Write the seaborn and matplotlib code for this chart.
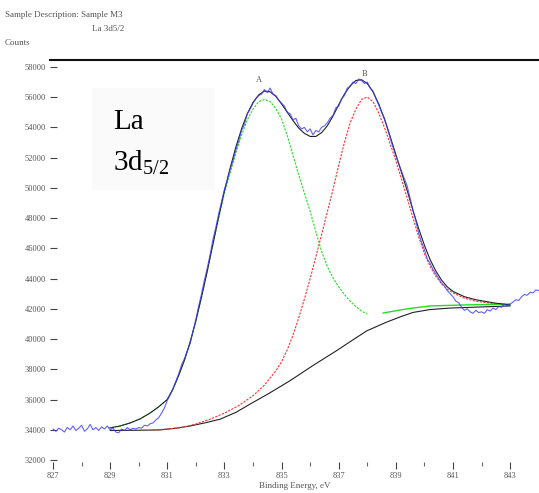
import matplotlib
matplotlib.use("Agg")
import matplotlib.pyplot as plt
import seaborn as sns
import pandas as pd
from matplotlib.patches import Rectangle

# ---------------- data ----------------
data_ev = [827.0 + 0.1 * i for i in range(171)]
data_counts = [
    34050, 33900, 34100, 34000, 33850, 34150, 34000, 34250, 33950, 34100,
    34300, 33900, 34050, 34350, 34000, 34150, 33950, 34200, 34050, 34250,
    34000, 34100, 33850, 33800, 34050, 33950, 34150, 34000, 34100, 34050,
    34150, 34100, 34300, 34250, 34400, 34450, 34650, 34800, 35100, 35450,
    35950, 36300, 36700, 37200, 37700, 38300, 38700, 39200, 39700, 40500,
    41300, 42200, 43000, 43900, 44700, 45600, 46600, 47400, 48300, 49100,
    49900, 50500, 51200, 51800, 52500, 53100, 53800, 54200, 54900, 55200,
    55600, 55900, 56100, 56200, 56500, 56300, 56600, 56200, 56100, 55800,
    55600, 55400, 55000, 54900, 54500, 54600, 54100, 53900, 54000, 53700,
    53900, 53500, 53800, 53700, 54000, 54100, 54300, 54600, 54800, 55300,
    55400, 55900, 56100, 56600, 56700, 57000, 56900, 57200, 57100, 56900,
    57000, 56600, 56400, 55900, 55500, 55000, 54600, 54000, 53300, 52700,
    52100, 51600, 51100, 50600, 50100, 49300, 48500, 47800, 47000, 46400,
    45900, 45300, 45000, 44600, 44300, 44000, 43700, 43500, 43200, 43000,
    42800, 42500, 42400, 42100, 41900, 42000, 41800, 41700, 41900, 41750,
    41800, 41700, 41950, 41850, 42050, 41950, 42150, 42100, 42300, 42200,
    42300, 42450, 42600, 42550, 42800, 42950, 42900, 43100, 43050, 43250,
    43200,
]

env_ev = [829.0, 829.35, 829.7, 830.05, 830.4, 830.7, 831.0, 831.2, 831.4,
          831.6, 831.8, 832.0, 832.2, 832.4, 832.6, 832.8, 833.0, 833.2, 833.4,
          833.6, 833.8, 834.0, 834.2, 834.4, 834.6, 834.8, 835.0, 835.2, 835.4,
          835.6, 835.8, 836.0, 836.2, 836.4, 836.6, 836.8, 837.0, 837.2, 837.4,
          837.6, 837.8, 838.0, 838.2, 838.4, 838.6, 838.8, 839.0, 839.2, 839.4,
          839.6, 839.8, 840.0, 840.2, 840.4, 840.6, 840.8, 841.0, 841.4, 841.8,
          842.4, 843.0]
env_counts = [34120, 34250, 34450, 34720, 35110, 35520, 36000, 36700, 37600,
              38600, 39800, 41200, 42800, 44500, 46300, 48100, 49800, 51300,
              52700, 53900, 54900, 55650, 56150, 56400, 56350, 56050, 55550,
              55000, 54450, 53950, 53600, 53400, 53400, 53650, 54100, 54750,
              55500, 56200, 56750, 57100, 57150, 56900, 56350, 55550, 54550,
              53400, 52200, 51000, 49800, 48500, 47300, 46200, 45250, 44500,
              43900, 43450, 43150, 42800, 42600, 42400, 42250]

bg_ev = [829.0, 830.0, 830.75, 831.3, 831.8, 832.3, 832.85, 833.4, 833.9,
         834.6, 835.3, 836.1, 836.94, 837.5, 837.99, 838.69, 839.2, 839.6,
         840.2, 840.9, 841.95, 843.0]
bg_counts = [33950, 33970, 33990, 34100, 34250, 34450, 34700, 35150, 35700,
             36450, 37250, 38250, 39250, 39950, 40550, 41130, 41500, 41760,
             41950, 42050, 42120, 42190]

red_ev = [830.5, 831.0, 831.5, 832.0, 832.5, 833.0, 833.5, 834.0, 834.4, 834.8,
          835.0, 835.2, 835.4, 835.6, 835.8, 836.0, 836.2, 836.4, 836.6, 836.8,
          837.0, 837.2, 837.4, 837.6, 837.8, 838.0, 838.2, 838.4, 838.6, 838.8,
          839.0, 839.2, 839.4, 839.6, 839.8, 840.0, 840.2, 840.4, 840.6, 840.8,
          841.0, 841.4, 841.8, 842.4, 843.0]
red_counts = [33980, 34050, 34150, 34380, 34700, 35100, 35600, 36250, 36950,
              37900, 38500, 39300, 40250, 41400, 42650, 44000, 45450, 46900,
              48400, 49900, 51500, 53000, 54300, 55200, 55850, 56000, 55700,
              54950, 54000, 52900, 51800, 50550, 49300, 48000, 46750, 45650,
              44800, 44150, 43650, 43300, 43050, 42700, 42500, 42350, 42250]

green_ev = [828.93, 829.35, 829.7, 830.05, 830.4, 830.7, 831.0, 831.2, 831.4,
            831.6, 831.8, 832.0, 832.2, 832.4, 832.6, 832.8, 833.0, 833.2,
            833.4, 833.6, 833.8, 834.0, 834.2, 834.4, 834.6, 834.8, 835.0,
            835.2, 835.4, 835.6, 835.8, 836.0, 836.2, 836.4, 836.6, 836.8,
            837.0, 837.2, 837.4, 837.6, 837.8, 838.0]
green_counts = [34120, 34250, 34450, 34720, 35110, 35520, 36000, 36700, 37600,
                38600, 39800, 41200, 42800, 44500, 46300, 48000, 49650, 51000,
                52300, 53500, 54500, 55200, 55700, 55850, 55700, 55250, 54550,
                53450, 52150, 50850, 49650, 48450, 47100, 45800, 44800, 44050,
                43450, 42950, 42500, 42150, 41850, 41650]

green_tail_ev = [838.55, 839.4, 840.2, 841.5, 843.0]
green_tail_counts = [41720, 42000, 42190, 42260, 42320]

x_ticks = [827, 829, 831, 833, 835, 837, 839, 841, 843]
y_ticks = list(range(32000, 58001, 2000))

# ---------------- figure ----------------
sns.set_style("white")
plt.rcParams["font.family"] = ["Liberation Serif", "DejaVu Serif"]
plt.rcParams["mathtext.fontset"] = "custom"
plt.rcParams["mathtext.rm"] = "Liberation Serif"
plt.rcParams["mathtext.it"] = "Liberation Serif:italic"

fig = plt.figure(figsize=(5.39, 4.93), dpi=100)
ax = fig.add_axes([50 / 539, 31 / 493, 489 / 539, 402 / 493])

df_data = pd.DataFrame({"ev": data_ev, "c": data_counts})
df_env = pd.DataFrame({"ev": env_ev, "c": env_counts})
df_bg = pd.DataFrame({"ev": bg_ev, "c": bg_counts})
df_red = pd.DataFrame({"ev": red_ev, "c": red_counts})
df_green = pd.DataFrame({"ev": green_ev, "c": green_counts})
df_gt = pd.DataFrame({"ev": green_tail_ev, "c": green_tail_counts})

sns.lineplot(data=df_bg, x="ev", y="c", ax=ax, color="#222222", lw=0.8, sort=False)
sns.lineplot(data=df_red, x="ev", y="c", ax=ax, color="#ff3030", lw=0.8, sort=False,
             linestyle=(0, (2, 1.2)))
sns.lineplot(data=df_green, x="ev", y="c", ax=ax, color="#22dd22", lw=0.8, sort=False,
             linestyle=(0, (2, 1.2)))
sns.lineplot(data=df_gt, x="ev", y="c", ax=ax, color="#22dd22", lw=1.0, sort=False)
sns.lineplot(data=df_env, x="ev", y="c", ax=ax, color="#222222", lw=0.8, sort=False)
sns.lineplot(data=df_data, x="ev", y="c", ax=ax, color="#3a3aff", lw=0.8, sort=False,
             alpha=0.8)

ax.set_xticks(x_ticks)
ax.set_xticks([x + 1 for x in x_ticks[:-1]], minor=True)
ax.set_yticks(y_ticks)
ax.set_yticklabels([str(v) for v in y_ticks])
ax.set_xticklabels([str(v) for v in x_ticks])
ax.set_xlim(826.895, 844.01)
ax.set_ylim(31868, 58456)
ax.tick_params(axis="y", direction="in", length=5, width=0.8, pad=3,
               labelsize=6, labelcolor="#555555", color="#444444", left=True)
ax.tick_params(axis="x", which="major", direction="out", length=5, width=0.8, pad=2,
               labelsize=6, labelcolor="#555555", color="#444444", bottom=True)
ax.tick_params(axis="x", which="minor", direction="out", length=3, width=0.8,
               color="#666666", bottom=True)
for s in ["left", "right", "bottom"]:
    ax.spines[s].set_visible(False)
ax.spines["top"].set_visible(True)
ax.spines["top"].set_linewidth(1.5)
ax.spines["top"].set_color("#111111")

ax.set_xlabel("Binding Energy, eV", fontsize=6.5, color="#555555", labelpad=2)
ax.set_ylabel("")

# peak labels
ax.text(834.2, 57000, "A", fontsize=6, color="#555555", ha="center")
ax.text(837.9, 57400, "B", fontsize=6, color="#555555", ha="center")

# header texts
fig.text(5 / 539, 1 - 17 / 493, "Sample Description: Sample M3", fontsize=6.5,
         color="#555555")
fig.text(108 / 539, 1 - 31 / 493, "La 3d5/2", fontsize=6.5, color="#555555",
         ha="center")
fig.text(5 / 539, 1 - 45 / 493, "Counts", fontsize=6.5, color="#555555")

# big annotation with faint box
fig.patches.append(Rectangle((92 / 539, 1 - 190 / 493), 123 / 539, 102 / 493,
                             transform=fig.transFigure, facecolor="#fafafa",
                             edgecolor="none", zorder=2))
fig.text(113 / 539, 1 - 129 / 493, "La", fontsize=21, color="black", zorder=3)
fig.text(113 / 539, 1 - 171 / 493, r"3d$_{\mathrm{5/2}}$", fontsize=21,
         color="black", zorder=3)

fig.savefig("out.png", dpi=100)
